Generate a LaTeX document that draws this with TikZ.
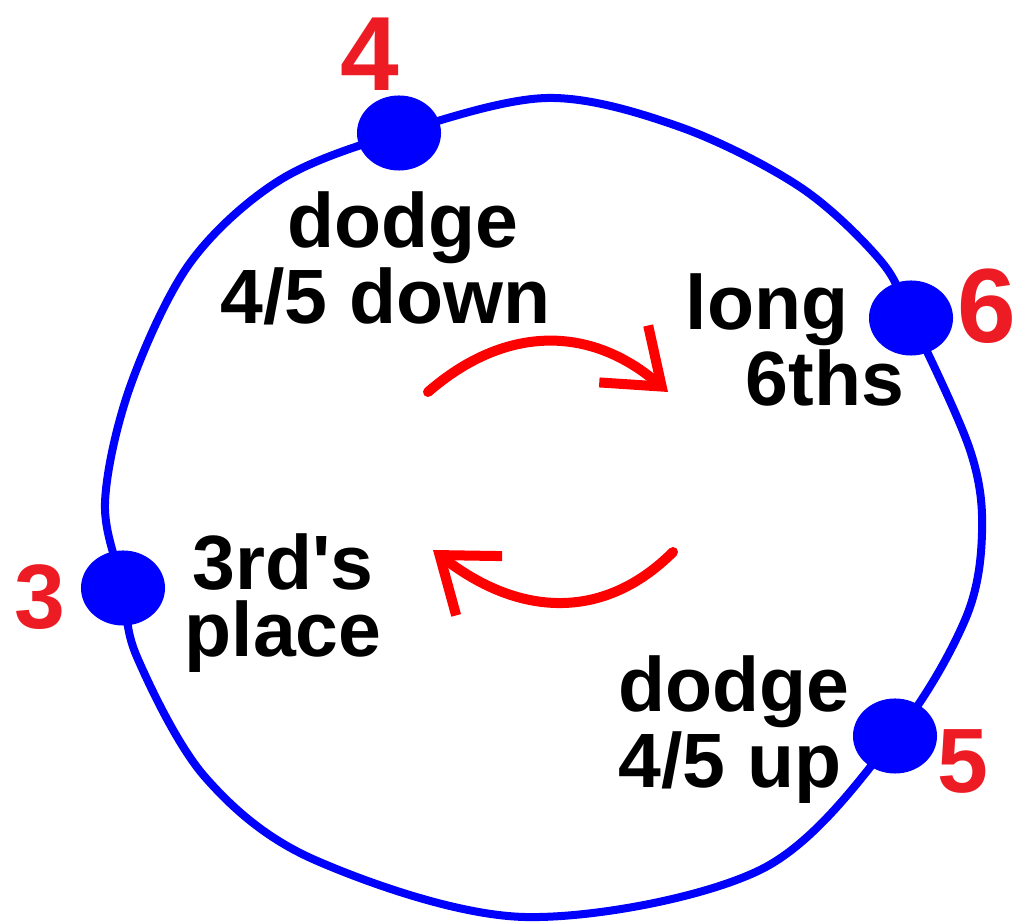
\documentclass[tikz,border=0pt]{standalone}
\usepackage{fontspec}
\setmainfont{Liberation Sans}[Ligatures=TeXOff]
\usetikzlibrary{arrows.meta,shapes.geometric}
\definecolor{numred}{RGB}{237,28,36}

\begin{document}
\begin{tikzpicture}[x=0.01cm,y=-0.01cm,
    spot/.style={ellipse,fill=blue,inner sep=0pt,minimum width=0.84cm,minimum height=0.75cm},
    num/.style={text=numred,font=\bfseries\fontsize{30}{30}\selectfont,inner sep=0pt},
    smallnum/.style={num,font=\bfseries\fontsize{26}{26}\selectfont},
    words/.style={font=\bfseries\fontsize{21.9}{19}\selectfont,inner sep=0pt},
    turn/.style={red,line width=0.1cm,line cap=round,-{Straight Barb[length=0.5cm,width=0.75cm]}}]
  \useasboundingbox (0,0) rectangle (1012,922);

  % The players
  \node[spot] (d4) at (399,133) {};
  \node[spot] (d6) at (911,318) {};
  \node[spot] (d5) at (895,736) {};
  \node[spot] (d3) at (123,588) {};

  % The ring
  \draw[blue,line width=0.08cm] plot[smooth cycle,tension=0.55] coordinates {
      (d4.center) (547,98) (680,127) (800,187) (880,260) (d6.center)
      (970,450) (982,533) (965,620) (d5.center) (760,870) (525,917)
      (315,860) (205,777) (137,657) (d3.center) (105,503) (130,387)
      (190,263) (280,180)};

  % Numbers
  \node[num] (n4) at (370,54) {4};
  \node[num] (n6) at (987,306) {6};
  \node[smallnum] (n3) at (40,597) {3};
  \node[smallnum] (n5) at (963,761) {5};

  % What each one does
  \node[words,align=left,anchor=north west] (txt4) at (220,191) {\hspace*{0.67cm}dodge\\4/5 down};
  \node[words,align=left,anchor=north west] (txt6) at (685,273) {long\\\hspace*{0.6cm}6ths};
  \node[words,align=center,anchor=north] (txt3) at (283,533) {3rd's\\place};
  \node[words,align=left,anchor=north west] (txt5) at (618,655) {dodge\\4/5 up};

  % Rotation
  \coordinate (t1) at (428,392);
  \coordinate (t2) at (668,392);
  \coordinate (b1) at (673,552);
  \coordinate (b2) at (433,550);
  \draw[turn] (t1) .. controls (505,325) and (590,325) .. (t2);
  \draw[turn] (b1) .. controls (606,619) and (522,619) .. (b2);
\end{tikzpicture}
\end{document}
